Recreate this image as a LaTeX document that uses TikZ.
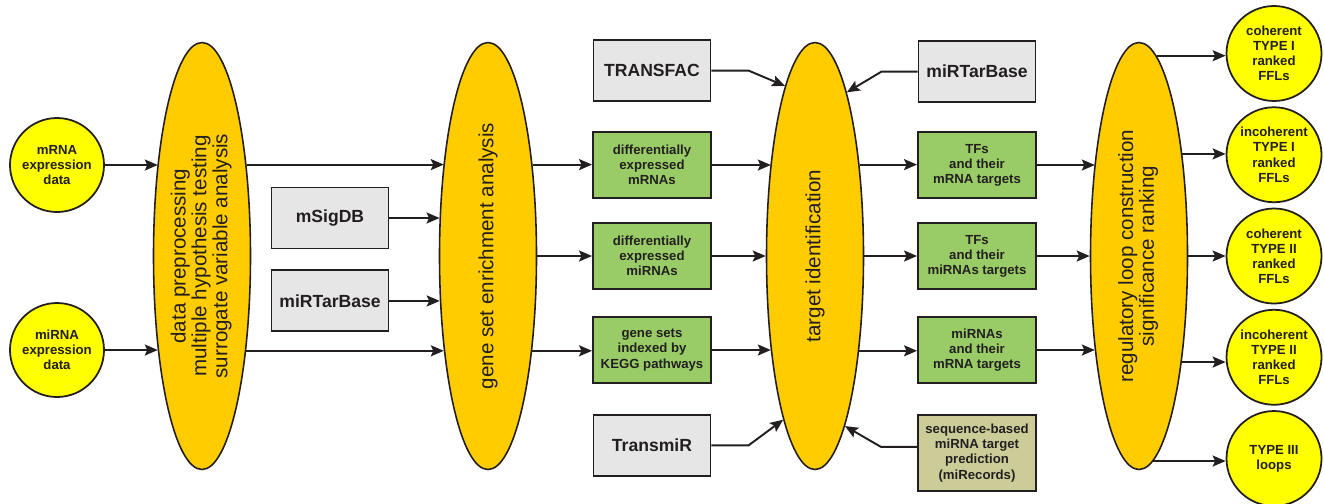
\documentclass[tikz,border=0pt]{standalone}
\usepackage{fontspec}
\setmainfont{Liberation Sans}
\usepackage{graphicx}
\usetikzlibrary{positioning, shapes.geometric, arrows.meta}

\definecolor{ink}{HTML}{231F20}
\definecolor{stagefill}{HTML}{FFCC00}
\definecolor{datafill}{HTML}{FFFF00}
\definecolor{dbfill}{HTML}{E6E6E6}
\definecolor{resultfill}{HTML}{99CC66}
\definecolor{predfill}{HTML}{CCCC99}

\begin{document}
\begin{tikzpicture}[
        datacircle/.style={
            circle,
            draw=ink,
            line width=1pt,
            fill=datafill,
            align=center,
            minimum size=1.88cm,
            inner sep=0pt,
            text=ink,
            font=\bfseries\fontsize{7.5}{8.6}\selectfont
        },
        loopcircle/.style={
            datacircle,
            minimum size=1.9cm
        },
        stage/.style={
            ellipse,
            draw=ink,
            line width=0.9pt,
            fill=stagefill,
            minimum width=1.94cm,
            minimum height=8.54cm,
            inner sep=0pt,
            text=ink,
            font=\fontsize{11.7}{11.4}\selectfont
        },
        dbbox/.style={
            rectangle,
            draw=ink,
            line width=1.1pt,
            fill=dbfill,
            minimum width=2.34cm,
            minimum height=1.22cm,
            text=ink,
            font=\bfseries\fontsize{10}{12}\selectfont
        },
        resultbox/.style={
            rectangle,
            draw=ink,
            line width=1.1pt,
            fill=resultfill,
            align=center,
            inner sep=2pt,
            minimum width=2.36cm,
            minimum height=1.32cm,
            text=ink,
            font=\bfseries\fontsize{7.5}{8.6}\selectfont
        },
        predbox/.style={
            resultbox,
            fill=predfill,
            minimum height=1.52cm
        },
        arrow/.style={-{Stealth[length=0.26cm, width=0.22cm, inset=0.05cm]}, line width=1.1pt, draw=ink}
        ]
        
        \useasboundingbox (0,0) rectangle (26.48,-10.06);
        
        % Input data
        \node[datacircle] (mrna) at (1.14,-3.30) {mRNA\\expression\\data};
        \node[datacircle] (mirna) at (1.14,-7.00) {miRNA\\expression\\data};
        
        % Processing stages
        \node[stage] (prep) at (4.04,-5.12)
        {\rotatebox{90}{\begin{tabular}{@{}c@{}}data preprocessing\\multiple hypothesis testing\\surrogate variable analysis\end{tabular}}};
        \node[stage] (gsea) at (9.76,-5.12)
        {\rotatebox{90}{gene set enrichment analysis}};
        \node[stage] (target) at (16.30,-5.12)
        {\rotatebox{90}{target identification}};
        \node[stage] (loops) at (22.78,-5.12)
        {\rotatebox{90}{\begin{tabular}{@{}c@{}}regulatory loop construction\\significance ranking\end{tabular}}};
        
        % Enrichment databases
        \node[dbbox] (msigdb) at (6.60,-4.36) {mSigDB};
        \node[dbbox, below=0.4cm of msigdb] (mirtarbaseA) {miRTarBase};
        
        % Enrichment results
        \node[resultbox] (diffmrna) at (13.04,-3.30) {differentially\\expressed\\mRNAs};
        \node[resultbox] (diffmirna) at (13.04,-5.12) {differentially\\expressed\\miRNAs};
        \node[resultbox] (keggsets) at (13.04,-7.00) {gene sets\\indexed by\\KEGG pathways};
        \node[dbbox, above=0.58cm of diffmrna] (transfac) {TRANSFAC};
        \node[dbbox, below=0.6cm of keggsets] (transmir) {TransmiR};
        
        % Target results
        \node[resultbox] (tfmrna) at (19.54,-3.30) {TFs\\and their\\mRNA targets};
        \node[resultbox] (tfmirna) at (19.54,-5.12) {TFs\\and their\\miRNAs targets};
        \node[resultbox] (mirnamrna) at (19.54,-7.00) {miRNAs\\and their\\mRNA targets};
        \node[dbbox, above=0.56cm of tfmrna] (mirtarbaseB) {miRTarBase};
        \node[predbox, below=0.6cm of mirnamrna] (seqpred) {sequence-based\\miRNA target\\prediction\\(miRecords)};
        
        % Ranked loops
        \node[loopcircle] (ffl3) at (25.48,-5.12) {coherent\\TYPE II\\ranked\\FFLs};
        \node[loopcircle, above=0.09cm of ffl3] (ffl2) {incoherent\\TYPE I\\ranked\\FFLs};
        \node[loopcircle, above=0.09cm of ffl2] (ffl1) {coherent\\TYPE I\\ranked\\FFLs};
        \node[loopcircle, below=0.09cm of ffl3] (ffl4) {incoherent\\TYPE II\\ranked\\FFLs};
        \node[loopcircle, below=0.09cm of ffl4] (ffl5) {TYPE III\\loops};
        
        % Main flow
        \draw[arrow] (mrna) -- (mrna -| prep.115.6);
        \draw[arrow] (mirna) -- (mirna -| prep.245);
        \draw[arrow] (prep.64.4) -- (prep.64.4 -| gsea.115.6);
        \draw[arrow] (prep.295) -- (prep.295 -| gsea.245);
        \draw[arrow] (msigdb) -- (msigdb -| gsea.141.1);
        \draw[arrow] (mirtarbaseA) -- (mirtarbaseA -| gsea.222);
        
        \draw[arrow] (gsea.64.4) -- (gsea.64.4 -| diffmrna.west);
        \draw[arrow] (gsea) -- (diffmirna);
        \draw[arrow] (gsea.295) -- (gsea.295 -| keggsets.west);
        \draw[arrow] (diffmrna) -- (diffmrna -| target.115.6);
        \draw[arrow] (diffmirna) -- (target);
        \draw[arrow] (keggsets) -- (keggsets -| target.245);
        
        \draw[arrow] (target.64.4) -- (target.64.4 -| tfmrna.west);
        \draw[arrow] (target) -- (tfmirna);
        \draw[arrow] (target.295) -- (target.295 -| mirnamrna.west);
        \draw[arrow] (tfmrna) -- (tfmrna -| loops.115.6);
        \draw[arrow] (tfmirna) -- (loops);
        \draw[arrow] (mirnamrna) -- (mirnamrna -| loops.245);
        
        % Database inputs to target identification
        \draw[arrow] (transfac.east) -- ++(0.74,0) -- (target.100.1);
        \draw[arrow] (transmir.east) -- ++(0.74,0) -- (target.259.7);
        \draw[arrow] (mirtarbaseB.west) -- ++(-0.72,0) -- (target.79.9);
        \draw[arrow] ([yshift=0.12cm]seqpred.west) -- ++(-0.72,0) -- (target.280.3);
        
        % Outputs
        \draw[arrow] (loops.85.55) -- (loops.85.55 -| ffl1.west);
        \draw[arrow] (loops.67.1) -- (loops.67.1 -| ffl2.west);
        \draw[arrow] (loops) -- (ffl3);
        \draw[arrow] (loops.292.9) -- (loops.292.9 -| ffl4.west);
        \draw[arrow] (loops.274.45) -- (loops.274.45 -| ffl5.west);
        
    \end{tikzpicture}
\end{document}
